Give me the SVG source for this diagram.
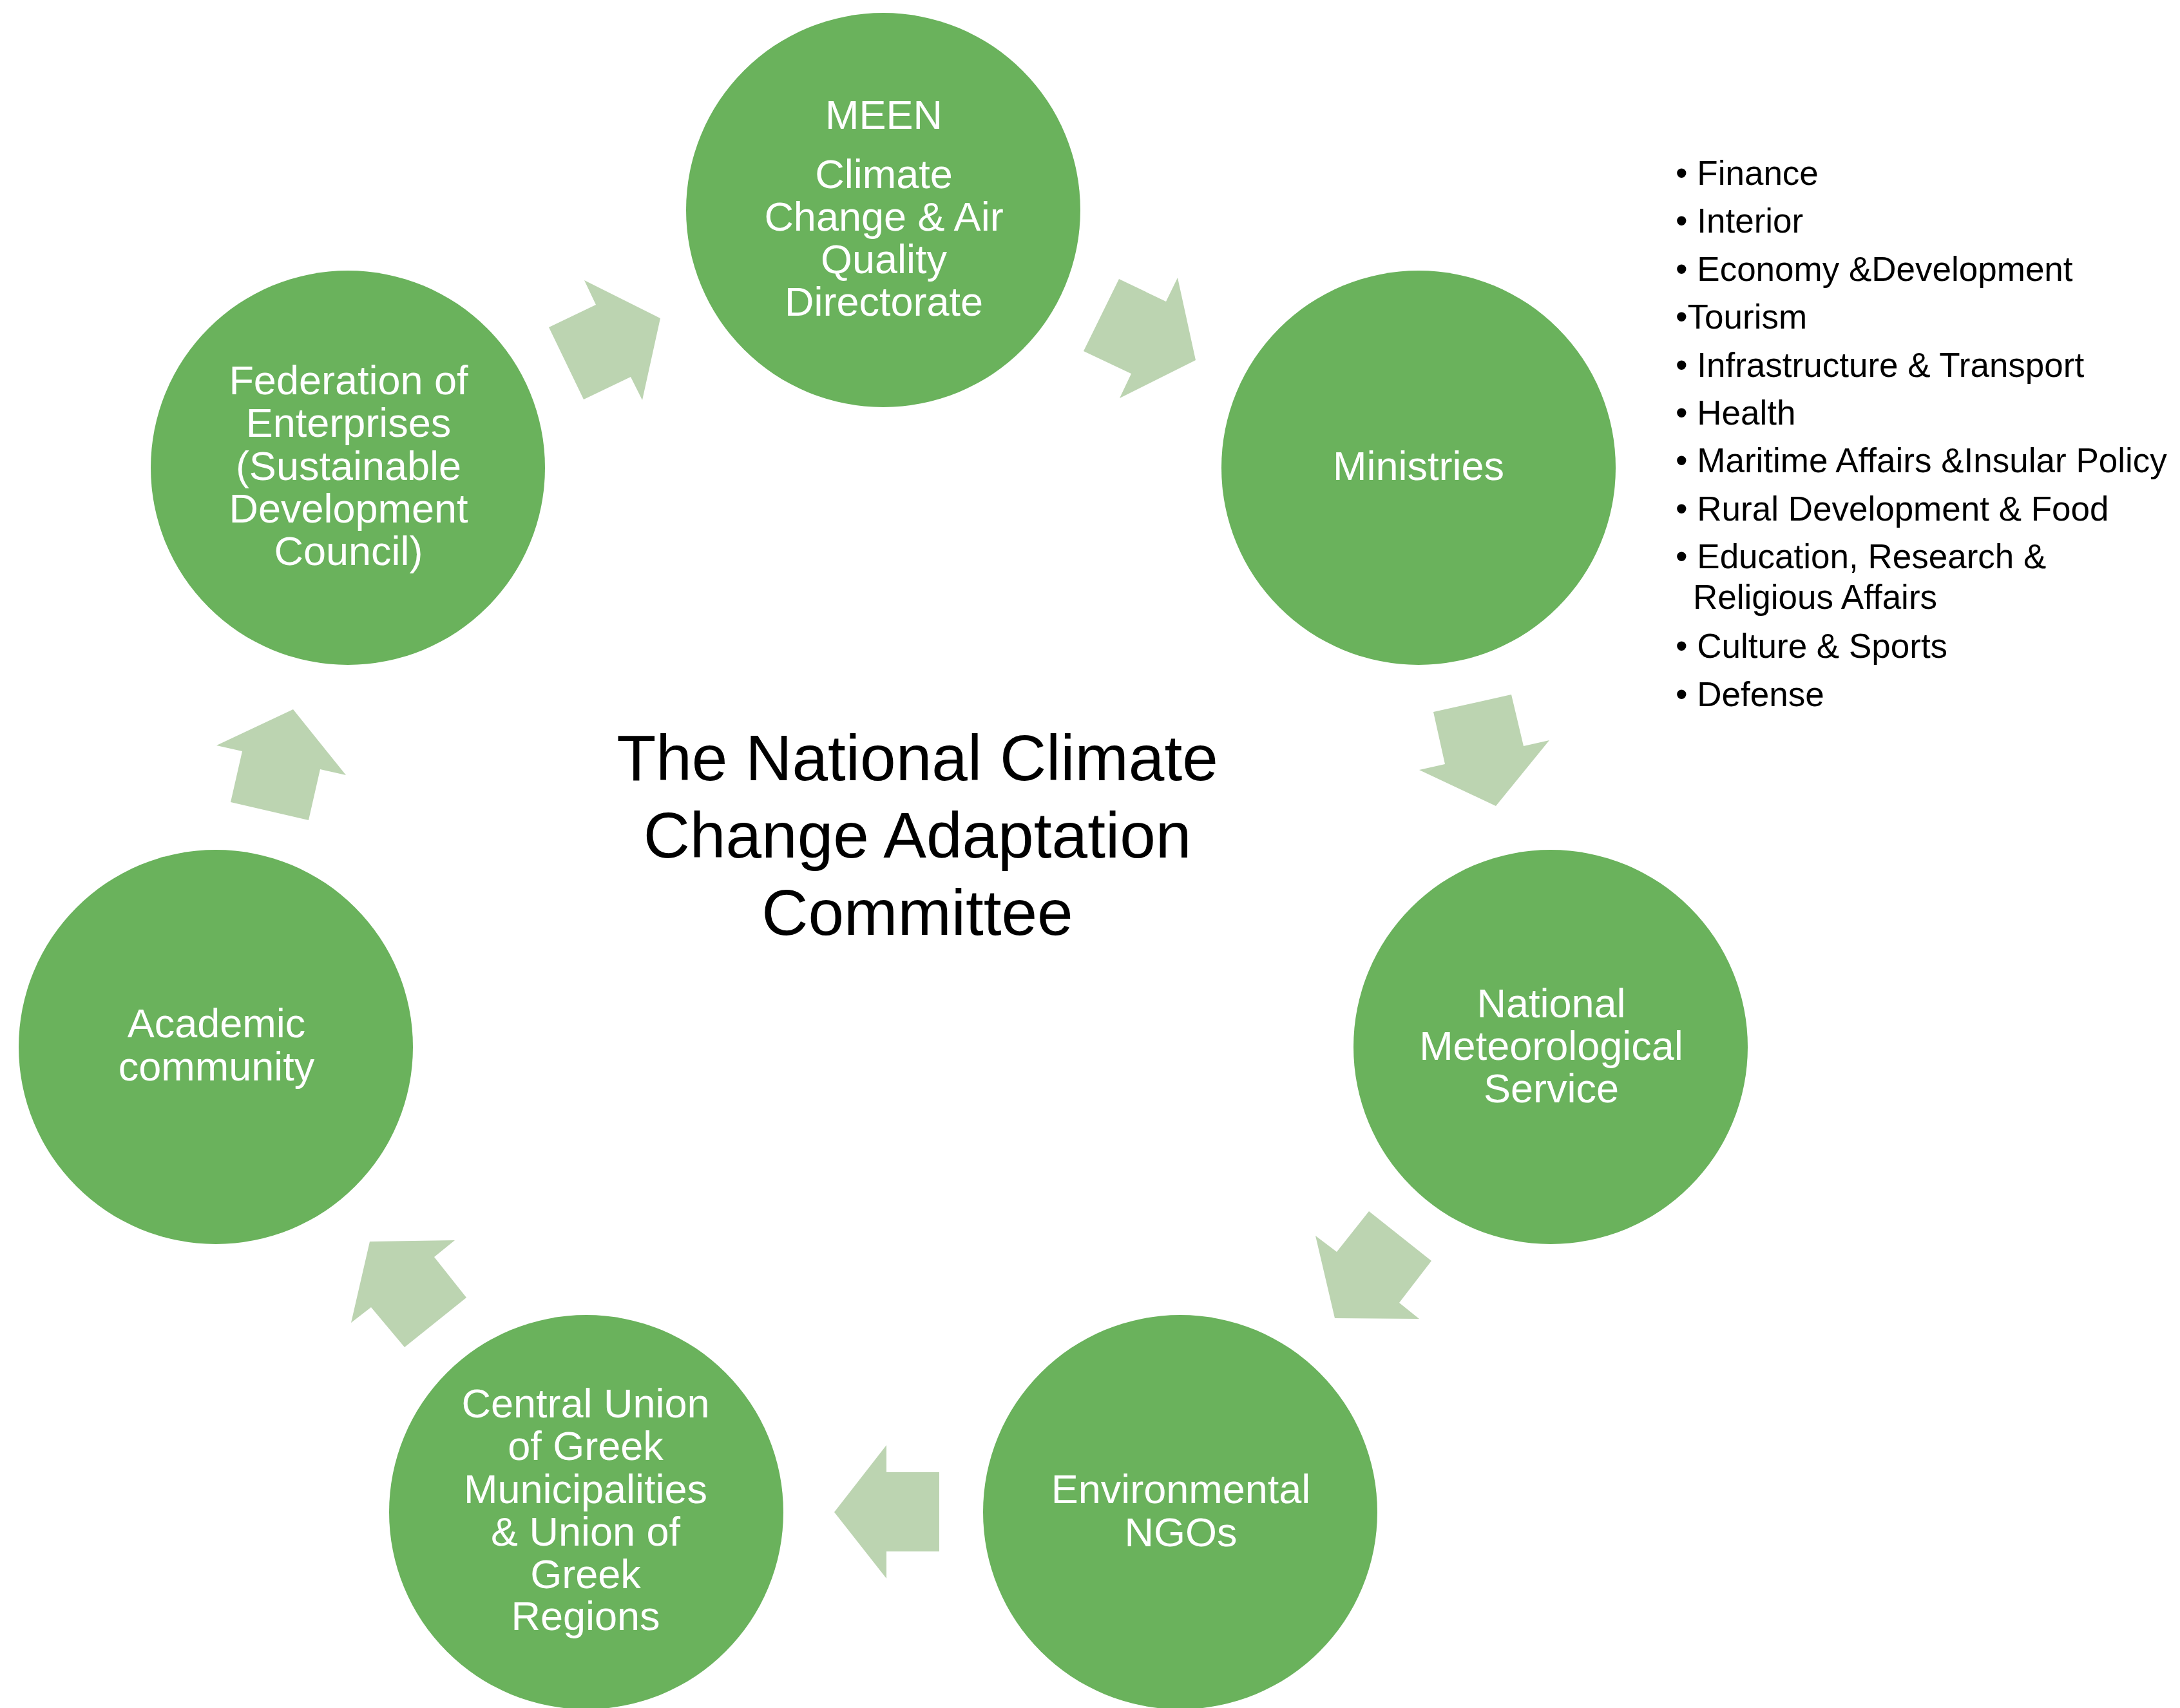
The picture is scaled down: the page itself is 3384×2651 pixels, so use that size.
<svg xmlns="http://www.w3.org/2000/svg" width="3384" height="2651" viewBox="0 0 3384 2651">
<style>
.node{fill:#6AB25C}
.arr{fill:#BCD4B1}
.nt{font-family:"Liberation Sans",Arial,sans-serif;font-size:63px;fill:#FFFFFF;text-anchor:middle}
.title{font-family:"Liberation Sans",Arial,sans-serif;font-size:100px;fill:#000000;text-anchor:middle}
.list{font-family:"Liberation Sans",Arial,sans-serif;font-size:53px;fill:#000000}
</style>
<rect width="3384" height="2651" fill="#FFFFFF"/>
<g id="connectors">
<polygon class="arr" points="907,435 1025,494 997,621 979,585 906,620 852,508 925,473"/>
<polygon class="arr" points="1737,433 1810,468 1828,431 1856,559 1738,618 1756,580 1682,545"/>
<polygon class="arr" points="2225,1105 2346,1078 2365,1158 2405,1149 2322,1251 2203,1195 2243,1186"/>
<polygon class="arr" points="2125,1880 2222,1957 2172,2022 2203,2047 2072,2046 2042,1918 2075,1943"/>
<polygon class="arr" points="1376,2243 1376,2285 1458,2285 1458,2408 1376,2408 1376,2450 1295,2347"/>
<polygon class="arr" points="574,1927 706,1925 674,1951 724,2014 628,2091 576,2029 545,2053"/>
<polygon class="arr" points="455,1101 537,1203 497,1194 479,1273 358,1245 376,1166 336,1157"/>
</g>
<g id="meen">
<circle class="node" cx="1371" cy="326" r="306"/>
<text class="nt"><tspan x="1372" y="200">MEEN</tspan><tspan x="1372" y="292">Climate</tspan><tspan x="1372" y="358">Change &amp; Air</tspan><tspan x="1372" y="424">Quality</tspan><tspan x="1372" y="490">Directorate</tspan></text>
</g>
<g id="ministries">
<circle class="node" cx="2202" cy="726" r="306"/>
<text class="nt" x="2202" y="745">Ministries</text>
</g>
<g id="nms">
<circle class="node" cx="2407" cy="1625" r="306"/>
<text class="nt"><tspan x="2408" y="1579">National</tspan><tspan x="2408" y="1645">Meteorological</tspan><tspan x="2408" y="1711">Service</tspan></text>
</g>
<g id="ngos">
<circle class="node" cx="1832" cy="2347" r="306"/>
<text class="nt"><tspan x="1833" y="2333">Environmental</tspan><tspan x="1833" y="2400">NGOs</tspan></text>
</g>
<g id="central-union">
<circle class="node" cx="910" cy="2347" r="306"/>
<text class="nt"><tspan x="909" y="2200">Central Union</tspan><tspan x="909" y="2266">of Greek</tspan><tspan x="909" y="2333">Municipalities</tspan><tspan x="909" y="2399">&amp; Union of</tspan><tspan x="909" y="2465">Greek</tspan><tspan x="909" y="2530">Regions</tspan></text>
</g>
<g id="academic">
<circle class="node" cx="335" cy="1625" r="306"/>
<text class="nt"><tspan x="336" y="1610">Academic</tspan><tspan x="336" y="1677">community</tspan></text>
</g>
<g id="federation">
<circle class="node" cx="540" cy="726" r="306"/>
<text class="nt"><tspan x="541" y="612">Federation of</tspan><tspan x="541" y="678">Enterprises</tspan><tspan x="541" y="745">(Sustainable</tspan><tspan x="541" y="811">Development</tspan><tspan x="541" y="877">Council)</tspan></text>
</g>
<g id="title">
<text class="title"><tspan x="1424" y="1211">The National Climate</tspan><tspan x="1424" y="1331">Change Adaptation</tspan><tspan x="1424" y="1451">Committee</tspan></text>
</g>
<g id="ministries-list">
<text class="list" x="2601" y="287">• Finance</text>
<text class="list" x="2601" y="361">• Interior</text>
<text class="list" x="2601" y="436">• Economy &amp;Development</text>
<text class="list" x="2601" y="510">•Tourism</text>
<text class="list" x="2601" y="585">• Infrastructure &amp; Transport</text>
<text class="list" x="2601" y="659">• Health</text>
<text class="list" x="2601" y="733">• Maritime Affairs &amp;Insular Policy</text>
<text class="list" x="2601" y="808">• Rural Development &amp; Food</text>
<text class="list" x="2601" y="882">• Education, Research &amp;</text>
<text class="list" x="2628" y="945">Religious Affairs</text>
<text class="list" x="2601" y="1021">• Culture &amp; Sports</text>
<text class="list" x="2601" y="1096">• Defense</text>
</g>
</svg>
